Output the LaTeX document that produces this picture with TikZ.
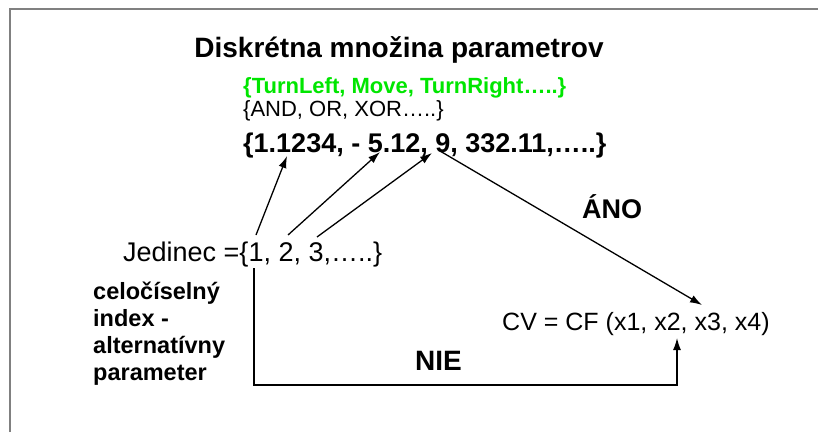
\documentclass[tikz,border=0pt]{standalone}
\usepackage{fontspec}
\setmainfont{Liberation Sans}
\usetikzlibrary{arrows.meta}
\definecolor{framegray}{RGB}{128,128,128}
\definecolor{setgreen}{RGB}{0,230,0}
\begin{document}
\begin{tikzpicture}[x=1pt,y=1pt,
  txt/.style={inner sep=0pt, anchor=base west},
  conn/.style={line width=1.3pt, -{Latex[length=12pt,width=8pt]}},
  plain/.style={line width=1.3pt}]
\useasboundingbox (0,0) rectangle (818,432);
\fill[white] (0,0) rectangle (818,432);
% frame
\draw[framegray, line width=2pt] (9.5,0) -- (9.5,422.5) -- (818,422.5);

% texts
\node[txt, anchor=base, font=\fontsize{28}{30}\selectfont\bfseries] (title) at (399,374) {Diskrétna množina parametrov};
\node[txt, text=setgreen, font=\fontsize{22}{24}\selectfont\bfseries] (green) at (243,338) {\{TurnLeft, Move, TurnRight…..\}};
\node[txt, font=\fontsize{22}{24}\selectfont] (logic) at (243,316) {\{AND, OR, XOR…..\}};
\node[txt, font=\fontsize{27}{29}\selectfont\bfseries] (nums) at (243,280) {\{1.1234, - 5.12, 9, 332.11,…..\}};
\node[txt, font=\fontsize{27}{29}\selectfont\bfseries] (ano) at (582,214) {ÁNO};
\node[txt, font=\fontsize{27}{29}\selectfont] (jed) at (123,171) {Jedinec =\{1, 2, 3,…..\}};
\node[txt, font=\fontsize{23.5}{27}\selectfont\bfseries, align=left, anchor=north west] (idx) at (93,150) {celočíselný\\index -\\alternatívny\\parameter};
\node[txt, font=\fontsize{25}{27}\selectfont] (cv) at (502,102) {CV = CF (x1, x2, x3, x4)};
\node[txt, font=\fontsize{28}{30}\selectfont\bfseries] (nie) at (415,62) {NIE};

% connector ends
\coordinate (j1) at (256,197);
\coordinate (j2) at (288,197);
\coordinate (j3) at (317,195);
\coordinate (p1) at (287,276);
\coordinate (p2) at (380,280);
\coordinate (p3) at (432,279);
\coordinate (p9) at (440,281);
\coordinate (cvx3) at (702,127);
\coordinate (jb) at (254,164);
\coordinate (cvx2) at (677,94);

% index -> parameter
\draw[conn] (j1) -- (p1);
\draw[conn] (j2) -- (p2);
\draw[conn] (j3) -- (p3);
% yes branch
\draw[conn] (p9) -- (cvx3);
% no branch
\draw[conn] (jb) |- (677,47) -- (cvx2);
\end{tikzpicture}
\end{document}
